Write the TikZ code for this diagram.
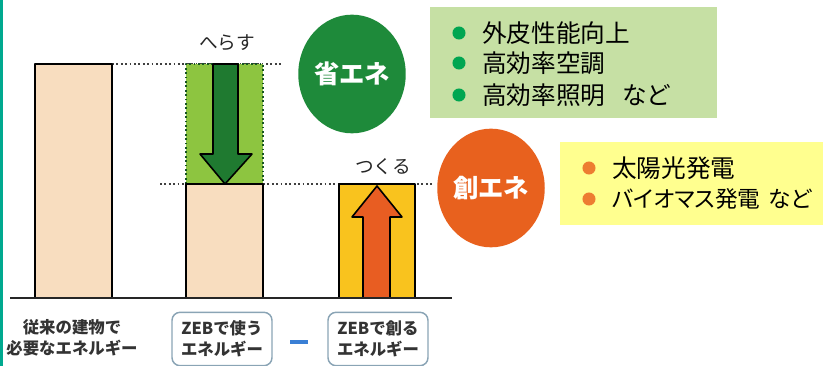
\documentclass[tikz,border=0pt]{standalone}
\usepackage{fontspec}
\newfontfamily\jp{Noto Sans CJK JP}
\newfontfamily\jpp{Noto Sans CJK JP}[RawFeature=+palt]
\definecolor{peach}{HTML}{F8DDBF}
\definecolor{lgreen}{HTML}{8DC540}
\definecolor{dgreen}{HTML}{1F7A30}
\definecolor{ybar}{HTML}{F9C31E}
\definecolor{oarrow}{HTML}{E85D22}
\definecolor{gcirc}{HTML}{1E8A3A}
\definecolor{ocirc}{HTML}{E8611E}
\definecolor{gbox}{HTML}{C6E0A4}
\definecolor{ybox}{HTML}{FFFF8F}
\definecolor{gbul}{HTML}{00A651}
\definecolor{obul}{HTML}{ED7D31}
\definecolor{tealline}{HTML}{00A98F}
\definecolor{lblborder}{HTML}{8AA4B5}
\definecolor{minusblue}{HTML}{3A7FD5}
\definecolor{lbltext}{HTML}{333333}
\begin{document}
\begin{tikzpicture}[x=0.75pt,y=-0.75pt,line join=round,
  bar/.style={draw=black,line width=1.2pt},
  dots/.style={draw=black!75,dotted,line width=1.3pt},
  listtxt/.style={anchor=west,inner sep=0pt,font=\jpp\fontsize{18.5}{20}\selectfont},
  bulletg/.style={fill=gbul},
  bulleto/.style={fill=obul},
  circlbl/.style={ellipse,minimum width=78pt,minimum height=89pt,inner sep=0pt,text=white,font=\jp\bfseries\fontsize{19}{22}\selectfont},
  lbl/.style={align=center,inner sep=0pt,text=lbltext,font=\jp\bfseries\fontsize{12.3}{15.5}\selectfont},
  lblbox/.style={lbl,draw=lblborder,line width=1.1pt,rounded corners=6pt,minimum width=75pt,minimum height=40pt},
  small/.style={inner sep=0pt,text=black!85,font=\jp\fontsize{14}{16}\selectfont}]
\useasboundingbox (0,0) rectangle (823,366);
\usetikzlibrary{shapes.geometric}
% left teal edge
\fill[tealline] (0,0) rectangle (2.5,366);
% list boxes
\node[fill=gbox,minimum width=215.25pt,minimum height=83.25pt,inner sep=0pt] (gboxn) at (573.5,62.5) {};
\node[fill=ybox,minimum width=197.25pt,minimum height=62.25pt,inner sep=0pt] (yboxn) at (691.5,183.5) {};
\fill[bulletg] (459,33) circle (4.9pt);
\fill[bulletg] (459,63) circle (4.9pt);
\fill[bulletg] (459,95) circle (4.9pt);
\node[listtxt] (g1) at (482,33) {外皮性能向上};
\node[listtxt] (g2) at (482,63) {高効率空調};
\node[listtxt] (g3) at (482,95) {高効率照明\hspace{0.7em}など};
\fill[bulleto] (589,168) circle (4.9pt);
\fill[bulleto] (589,199) circle (4.9pt);
\node[listtxt] (y1) at (612,168) {太陽光発電};
\node[listtxt,font=\jpp\fontsize{17}{20}\selectfont] (y2) at (612,199) {バイオマス発電\hspace{0.35em}など};
% circles
\node[circlbl,fill=gcirc] (sho) at (352,74) {省エネ};
\node[circlbl,fill=ocirc] (so) at (491,188) {創エネ};
% dotted guides
\draw[dots] (112,64) -- (283,64);
\draw[dots] (160,184) -- (186,184);
\draw[dots] (263,184) -- (433,184);
% bar 1
\draw[bar,fill=peach] (35,298) rectangle (112,64);
% bar 2 green part
\fill[lgreen] (186,64) rectangle (263,184);
\draw[dgreen!70!black,dotted,line width=1.3pt] (186,184) -- (186,64) -- (263,64) -- (263,184);
\draw[bar,fill=peach] (186,298) rectangle (263,184);
\draw[bar,fill=dgreen] (213,64) -- (238,64) -- (238,154) -- (252,154) -- (225,184) -- (200,154) -- (213,154) -- cycle;
% bar 3
\draw[bar,fill=ybar] (339,298) rectangle (415,184);
\draw[bar,fill=oarrow] (363,298) -- (390,298) -- (390,217) -- (402,217) -- (377,186) -- (352,217) -- (363,217) -- cycle;
% baseline
\draw[line width=1.3pt,black!85] (10,298) -- (452,298);
% labels above
\node[small] (herasu) at (227,43) {へらす};
\node[small] (tsukuru) at (383,167) {つくる};
% bottom labels
\node[lbl] (conv) at (72,338) {従来の建物で\\必要なエネルギー};
\node[lblbox] (use) at (222,339) {ZEBで使う\\エネルギー};
\node[lblbox] (make) at (378,339) {ZEBで創る\\エネルギー};
\node[inner sep=0pt,minimum width=14pt,minimum height=3pt,fill=minusblue] (minus) at (299,342) {};
\end{tikzpicture}
\end{document}
